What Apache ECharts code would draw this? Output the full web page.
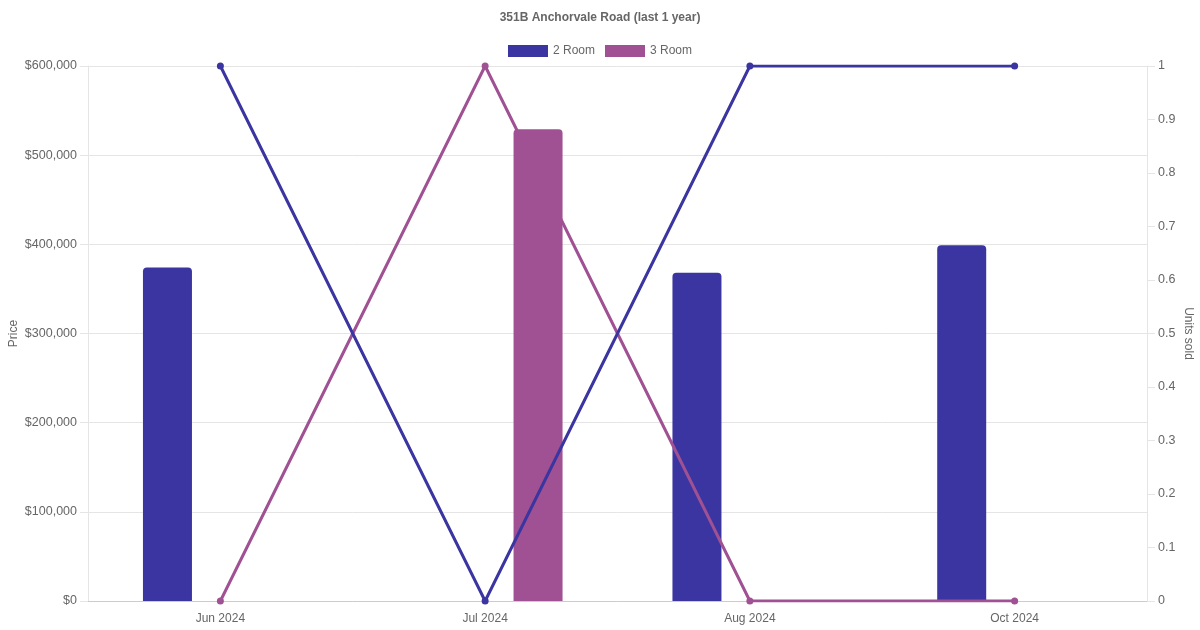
<!DOCTYPE html>
<html><head><meta charset="utf-8">
<script src="https://cdn.jsdelivr.net/npm/echarts@6/dist/echarts.min.js"></script>
<style>html,body{margin:0;padding:0;background:#fff}#c{width:1200px;height:630px}</style>
</head><body><div id="c"></div>
<script>
const categories = ['Jun 2024', 'Jul 2024', 'Aug 2024', 'Oct 2024'];
const price2Room = [374000, null, 368000, 399000];
const price3Room = [null, 529000, null, null];
const units2Room = [1, 0, 1, 1];
const units3Room = [0, 1, 0, 0];
const c2 = '#3a35a0';
const c3 = '#a05193';
const font = 'Liberation Sans, Arial, sans-serif';
const chart = echarts.init(document.getElementById('c'));
chart.setOption({
  animation: false,
  textStyle: {fontFamily: font},
  title: {text: '351B Anchorvale Road (last 1 year)', left: 'center', top: 7,
    textStyle: {fontSize: 12, fontWeight: 'bold', color: '#666', fontFamily: font}},
  legend: {top: 40, left: 'center', itemWidth: 40, itemHeight: 12, itemGap: 10,
    textStyle: {fontSize: 12, color: '#666', fontFamily: font},
    data: [{name: '2 Room', icon: 'rect', itemStyle: {color: c2}}, {name: '3 Room', icon: 'rect', itemStyle: {color: c3}}]},
  grid: {left: 88, right: 53, top: 66, bottom: 29, containLabel: false, outerBoundsMode: 'none'},
  xAxis: {type: 'category', data: categories,
    axisLine: {lineStyle: {color: '#cccccc'}},
    axisTick: {show: false},
    axisLabel: {color: '#666', fontSize: 12, margin: 12},
    splitLine: {show: false}},
  yAxis: [
    {type: 'value', min: 0, max: 600000, interval: 100000, name: 'Price',
     nameLocation: 'middle', nameGap: 68, nameMoveOverlap: false, nameTextStyle: {color: '#666', fontSize: 12},
     axisLine: {show: true, lineStyle: {color: '#e5e5e5'}},
     axisTick: {show: true, length: 8, lineStyle: {color: '#e5e5e5'}},
     axisLabel: {color: '#666', fontSize: 12.5, margin: 11, formatter: v => '$' + v.toLocaleString('en-US')},
     splitLine: {lineStyle: {color: '#e5e5e5'}}},
    {type: 'value', min: 0, max: 1, interval: 0.1, name: 'Units sold', position: 'right',
     nameLocation: 'middle', nameGap: 35, nameMoveOverlap: false, nameRotate: -90, nameTextStyle: {color: '#666', fontSize: 12},
     axisLine: {show: true, lineStyle: {color: '#e5e5e5'}},
     axisTick: {show: true, length: 8, lineStyle: {color: '#e5e5e5'}},
     axisLabel: {color: '#666', fontSize: 12.5, margin: 11, formatter: v => String(Math.round(v * 10) / 10)},
     splitLine: {show: false}}
  ],
  series: [
    {name: '2 Room', type: 'bar', yAxisIndex: 0, data: price2Room, barWidth: 49, barGap: '116%',
     itemStyle: {color: c2, borderRadius: [4, 4, 0, 0]}, z: 2},
    {name: '3 Room', type: 'bar', yAxisIndex: 0, data: price3Room, barWidth: 49, barGap: '116%',
     itemStyle: {color: c3, borderRadius: [4, 4, 0, 0]}, z: 2},
    {name: '2 Room', type: 'line', yAxisIndex: 1, data: units2Room, symbol: 'circle', symbolSize: 7,
     lineStyle: {color: c2, width: 3}, itemStyle: {color: c2}, z: 5},
    {name: '3 Room', type: 'line', yAxisIndex: 1, data: units3Room, symbol: 'circle', symbolSize: 7,
     lineStyle: {color: c3, width: 3}, itemStyle: {color: c3}, z: 4}
  ]
});
</script></body></html>
